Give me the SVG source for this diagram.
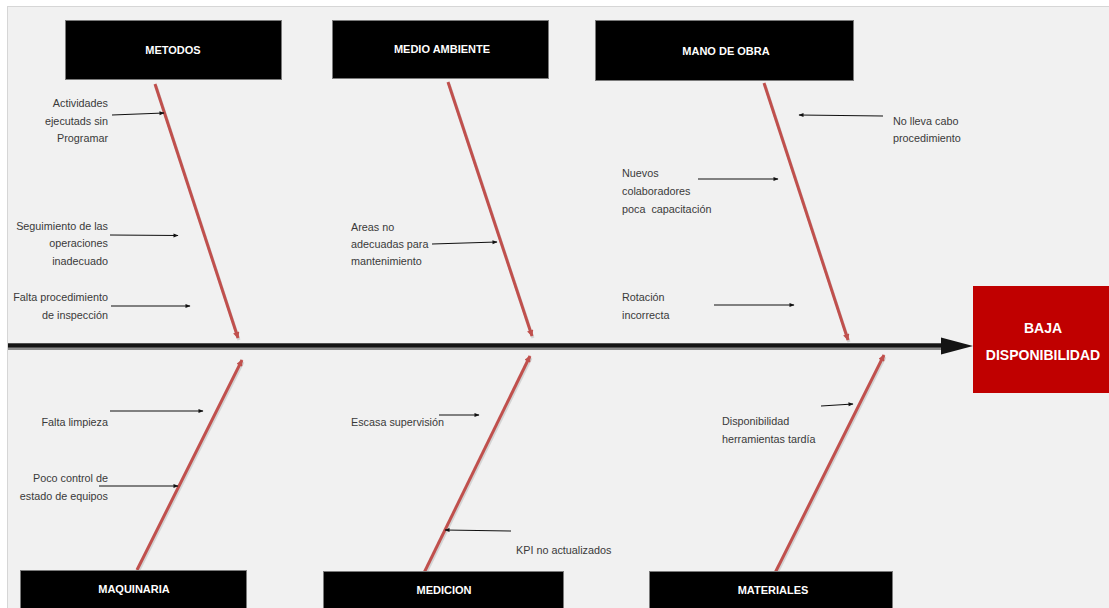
<svg xmlns="http://www.w3.org/2000/svg" width="1109" height="608" viewBox="0 0 1109 608">
  <style>
    .cat rect { fill: #000; stroke: #7a7a7a; stroke-width: 1; }
    .cat text { font-family: "Liberation Sans", Arial, sans-serif; font-weight: bold; font-size: 11px; fill: #fff; text-anchor: middle; }
    .effect rect { fill: #c00000; }
    .effect text { font-family: "Liberation Sans", Arial, sans-serif; font-weight: bold; font-size: 14px; fill: #fff; text-anchor: middle; }
    .cause text { font-family: "Liberation Sans", Arial, sans-serif; font-size: 10.8px; fill: #3a3a3a; white-space: pre; }
    .cause .r { text-anchor: end; }
    .bone { stroke: #c0504d; stroke-width: 3; fill: none; marker-end: url(#redHead); }
    .bone-shadow { stroke: #9a9a9a; stroke-width: 3; fill: none; opacity: 0.35; }
    .tick { stroke: #111; stroke-width: 1.1; fill: none; marker-end: url(#blackHead); }
  </style>
  <defs>
    <marker id="redHead" viewBox="0 0 10 10" refX="9" refY="5" markerWidth="11" markerHeight="6.5" orient="auto" markerUnits="userSpaceOnUse">
      <path d="M0,0 L10,5 L0,10 z" fill="#c0504d"/>
    </marker>
    <marker id="blackHead" viewBox="0 0 10 10" refX="9" refY="5" markerWidth="8" markerHeight="5" orient="auto" markerUnits="userSpaceOnUse">
      <path d="M0,1 L10,5 L0,9 z" fill="#111"/>
    </marker>
  </defs>

  <!-- page -->
  <rect x="0" y="0" width="1109" height="608" fill="#ffffff"/>
  <rect x="7.5" y="6.5" width="1102" height="602" fill="#f1f1f1" stroke="#d6d6d6" stroke-width="1"/>

  <!-- connectors: spine, bones, cause arrows -->
  <g id="connectors">
    <!-- main spine -->
    <line x1="8" y1="346.5" x2="946" y2="346.5" stroke="#8c8c8c" stroke-width="7"/>
    <line x1="8" y1="345.5" x2="946" y2="345.5" stroke="#141414" stroke-width="4"/>
    <polygon points="941,337.5 973,346 941,354.5" fill="#141414"/>

    <!-- bones, upper -->
    <line class="bone-shadow" x1="156" y1="86" x2="239" y2="340"/>
    <line class="bone" x1="155" y1="84" x2="238" y2="338"/>
    <line class="bone-shadow" x1="449" y1="84" x2="533" y2="338"/>
    <line class="bone" x1="448" y1="82" x2="532" y2="336"/>
    <line class="bone-shadow" x1="765" y1="85" x2="849" y2="342"/>
    <line class="bone" x1="764" y1="83" x2="848" y2="340"/>

    <!-- bones, lower -->
    <line class="bone-shadow" x1="138" y1="572" x2="243" y2="362"/>
    <line class="bone" x1="137" y1="570" x2="242" y2="360"/>
    <line class="bone-shadow" x1="423" y1="579" x2="531" y2="358"/>
    <line class="bone" x1="422" y1="577" x2="530" y2="356"/>
    <line class="bone-shadow" x1="774" y1="579" x2="885" y2="357"/>
    <line class="bone" x1="773" y1="577" x2="884" y2="355"/>

    <!-- cause arrows -->
    <line class="tick" x1="112" y1="115" x2="164" y2="113"/>
    <line class="tick" x1="110" y1="235" x2="178" y2="235.5"/>
    <line class="tick" x1="111" y1="306" x2="190" y2="306"/>
    <line class="tick" x1="432" y1="244" x2="497" y2="242"/>
    <line class="tick" x1="883" y1="116" x2="799" y2="115"/>
    <line class="tick" x1="698" y1="179" x2="778" y2="179"/>
    <line class="tick" x1="714" y1="305" x2="794" y2="305"/>
    <line class="tick" x1="110" y1="411" x2="203" y2="411"/>
    <line class="tick" x1="99" y1="486" x2="178" y2="486"/>
    <line class="tick" x1="439" y1="415" x2="479" y2="415"/>
    <line class="tick" x1="511" y1="531" x2="445" y2="530"/>
    <line class="tick" x1="821" y1="406" x2="853" y2="404"/>
  </g>

  <!-- category heads -->
  <g id="metodos" class="cat">
    <rect x="65.5" y="20.5" width="216" height="59"/>
    <text x="173" y="54">METODOS</text>
  </g>
  <g id="medio-ambiente" class="cat">
    <rect x="332.5" y="20.5" width="216" height="58"/>
    <text x="442" y="53">MEDIO AMBIENTE</text>
  </g>
  <g id="mano-de-obra" class="cat">
    <rect x="595.5" y="20.5" width="258" height="60"/>
    <text x="726" y="55">MANO DE OBRA</text>
  </g>
  <g id="maquinaria" class="cat">
    <rect x="20.5" y="570.5" width="226" height="40"/>
    <text x="134" y="593">MAQUINARIA</text>
  </g>
  <g id="medicion" class="cat">
    <rect x="323.5" y="571.5" width="240" height="40"/>
    <text x="444" y="594">MEDICION</text>
  </g>
  <g id="materiales" class="cat">
    <rect x="649.5" y="571.5" width="243" height="40"/>
    <text x="773" y="594">MATERIALES</text>
  </g>

  <!-- effect -->
  <g id="baja-disponibilidad" class="effect">
    <rect x="973" y="286" width="136" height="107"/>
    <text x="1043" y="333">BAJA</text>
    <text x="1043" y="360">DISPONIBILIDAD</text>
  </g>

  <!-- causes -->
  <g id="cause-actividades" class="cause">
    <text class="r" x="108" y="107">Actividades</text>
    <text class="r" x="108" y="125">ejecutads sin</text>
    <text class="r" x="108" y="142">Programar</text>
  </g>
  <g id="cause-seguimiento" class="cause">
    <text class="r" x="108" y="230">Seguimiento de las</text>
    <text class="r" x="108" y="247">operaciones</text>
    <text class="r" x="108" y="265">inadecuado</text>
  </g>
  <g id="cause-falta-procedimiento" class="cause">
    <text class="r" x="108" y="301">Falta procedimiento</text>
    <text class="r" x="108" y="319">de inspección</text>
  </g>
  <g id="cause-areas" class="cause">
    <text x="351" y="231">Areas no</text>
    <text x="351" y="248">adecuadas para</text>
    <text x="351" y="265">mantenimiento</text>
  </g>
  <g id="cause-no-lleva" class="cause">
    <text x="893" y="125">No lleva cabo</text>
    <text x="893" y="142">procedimiento</text>
  </g>
  <g id="cause-nuevos" class="cause">
    <text x="622" y="177">Nuevos</text>
    <text x="622" y="195">colaboradores</text>
    <text x="622" y="213">poca  capacitación</text>
  </g>
  <g id="cause-rotacion" class="cause">
    <text x="622" y="301">Rotación</text>
    <text x="622" y="319">incorrecta</text>
  </g>
  <g id="cause-falta-limpieza" class="cause">
    <text class="r" x="108" y="426">Falta limpieza</text>
  </g>
  <g id="cause-poco-control" class="cause">
    <text class="r" x="108" y="482">Poco control de</text>
    <text class="r" x="108" y="500">estado de equipos</text>
  </g>
  <g id="cause-escasa" class="cause">
    <text x="351" y="426">Escasa supervisión</text>
  </g>
  <g id="cause-kpi" class="cause">
    <text x="516" y="554">KPI no actualizados</text>
  </g>
  <g id="cause-herramientas" class="cause">
    <text x="722" y="425">Disponibilidad</text>
    <text x="722" y="443">herramientas tardía</text>
  </g>
</svg>
